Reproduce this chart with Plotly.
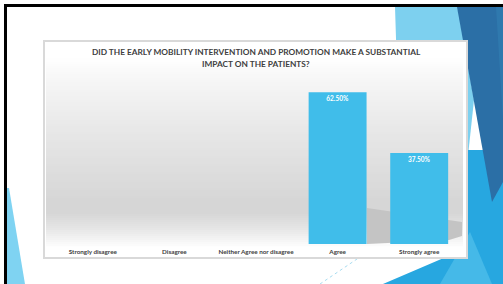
import plotly.graph_objects as go

categories = ["Strongly disagree", "Disagree", "Neither Agree nor disagree", "Agree", "Strongly agree"]
values = [0, 0, 0, 62.5, 37.5]
title_lines = ["DID THE EARLY MOBILITY INTERVENTION AND PROMOTION MAKE A SUBSTANTIAL",
               "IMPACT ON THE PATIENTS?"]

W, H = 503, 284
L, R, T, B = 52, 460, 74, 244  # plot area in pixels
PW, PH = R - L, B - T


def px(x):
    return (x - L) / PW


def py(y):
    return (B - y) / PH


def poly(points, color, line=None):
    path = "M " + " L ".join(f"{px(x):.5f},{py(y):.5f}" for x, y in points) + " Z"
    return dict(type="path", xref="paper", yref="paper", path=path, fillcolor=color,
                line=dict(width=0) if line is None else line, layer="below")


def rect(x0, y0, x1, y1, color, line=None):
    return dict(type="rect", xref="paper", yref="paper", x0=px(x0), x1=px(x1),
                y0=py(y1), y1=py(y0), fillcolor=color,
                line=dict(width=0) if line is None else line, layer="below")


shapes = []
# slide decorations
shapes.append(poly([(395, 7), (458, 7), (474, 100), (467, 165), (400, 165)], "#7dd0ef"))
shapes.append(poly([(383, 284), (467, 248), (467, 150), (503, 150), (503, 284)], "#27a7e0"))
shapes.append(poly([(440, 284), (470, 232), (492, 284)], "#45b9e8"))
shapes.append(poly([(457, 7), (503, 7), (503, 182), (492, 202)], "#2b6fa6"))
shapes.append(poly([(496, 7), (503, 7), (503, 120)], "#2f79ae"))
shapes.append(poly([(7, 188), (9, 188), (25, 284), (7, 284)], "#7fd3f2"))
shapes.append(dict(type="line", xref="paper", yref="paper", x0=px(320), y0=py(284),
                   x1=px(360), y1=py(257), line=dict(color="#a8dcf0", width=1, dash="dot"),
                   layer="below"))
# black frame
shapes.append(poly([(4, 4), (503, 4), (503, 7), (7, 7), (7, 284), (4, 284)], "#000000"))
# chart box
shapes.append(rect(44, 41, 467, 258, "#ffffff", line=dict(color="#d9d9d9", width=2)))
# gray wall gradient (decorative)
stops = [(56, 255), (80, 246), (120, 234), (160, 224), (200, 214), (212, 214), (228, 230), (246, 254)]
y = 56
while y < 246:
    for (ya, ga), (yb, gb) in zip(stops[:-1], stops[1:]):
        if ya <= y < yb:
            g = int(round(ga + (gb - ga) * (y - ya) / (yb - ya)))
            break
    shapes.append(rect(46, y, 463, y + 2.2, f"rgb({g},{g},{g})"))
    y += 2
# floor shadow
shapes.append(poly([(367, 208), (462, 222), (462, 236), (449, 240), (367, 244)], "#c4c4c4"))

fig = go.Figure(go.Bar(
    x=categories, y=values,
    marker=dict(color="#40bdea", line=dict(width=0)),
    text=[f"{v:.2f}%" if v > 0 else "" for v in values],
    textposition="inside", insidetextanchor="end", constraintext="none",
    textfont=dict(family="Lato", size=6.5, color="#ffffff", weight="bold"),
    hoverinfo="skip",
))

annotations = [
    dict(text=f"<b>{title_lines[0]}</b>", x=px(256), y=py(52), xref="paper", yref="paper",
         showarrow=False, xanchor="center", yanchor="middle",
         font=dict(family="Lato", size=8.3, color="#404040")),
    dict(text=f"<b>{title_lines[1]}</b>", x=px(256), y=py(64), xref="paper", yref="paper",
         showarrow=False, xanchor="center", yanchor="middle",
         font=dict(family="Lato", size=8.3, color="#404040")),
]

fig.update_layout(
    width=W, height=H,
    margin=dict(l=L, r=W - R, t=T, b=H - B, pad=0),
    paper_bgcolor="#ffffff", plot_bgcolor="rgba(0,0,0,0)",
    showlegend=False, bargap=0.29,
    shapes=shapes, annotations=annotations,
    xaxis=dict(range=[-0.5, 4.5], showgrid=False, zeroline=False, showline=False,
               ticks="", ticklabelstandoff=3,
               tickfont=dict(family="Lato", size=6.3, color="#404040", weight="bold"),
               fixedrange=True),
    yaxis=dict(range=[0, 70], visible=False, fixedrange=True),
)

fig.write_html("out.html", config={"displayModeBar": False},
               post_script="document.body.style.margin='0px';document.body.style.overflow='hidden';")
